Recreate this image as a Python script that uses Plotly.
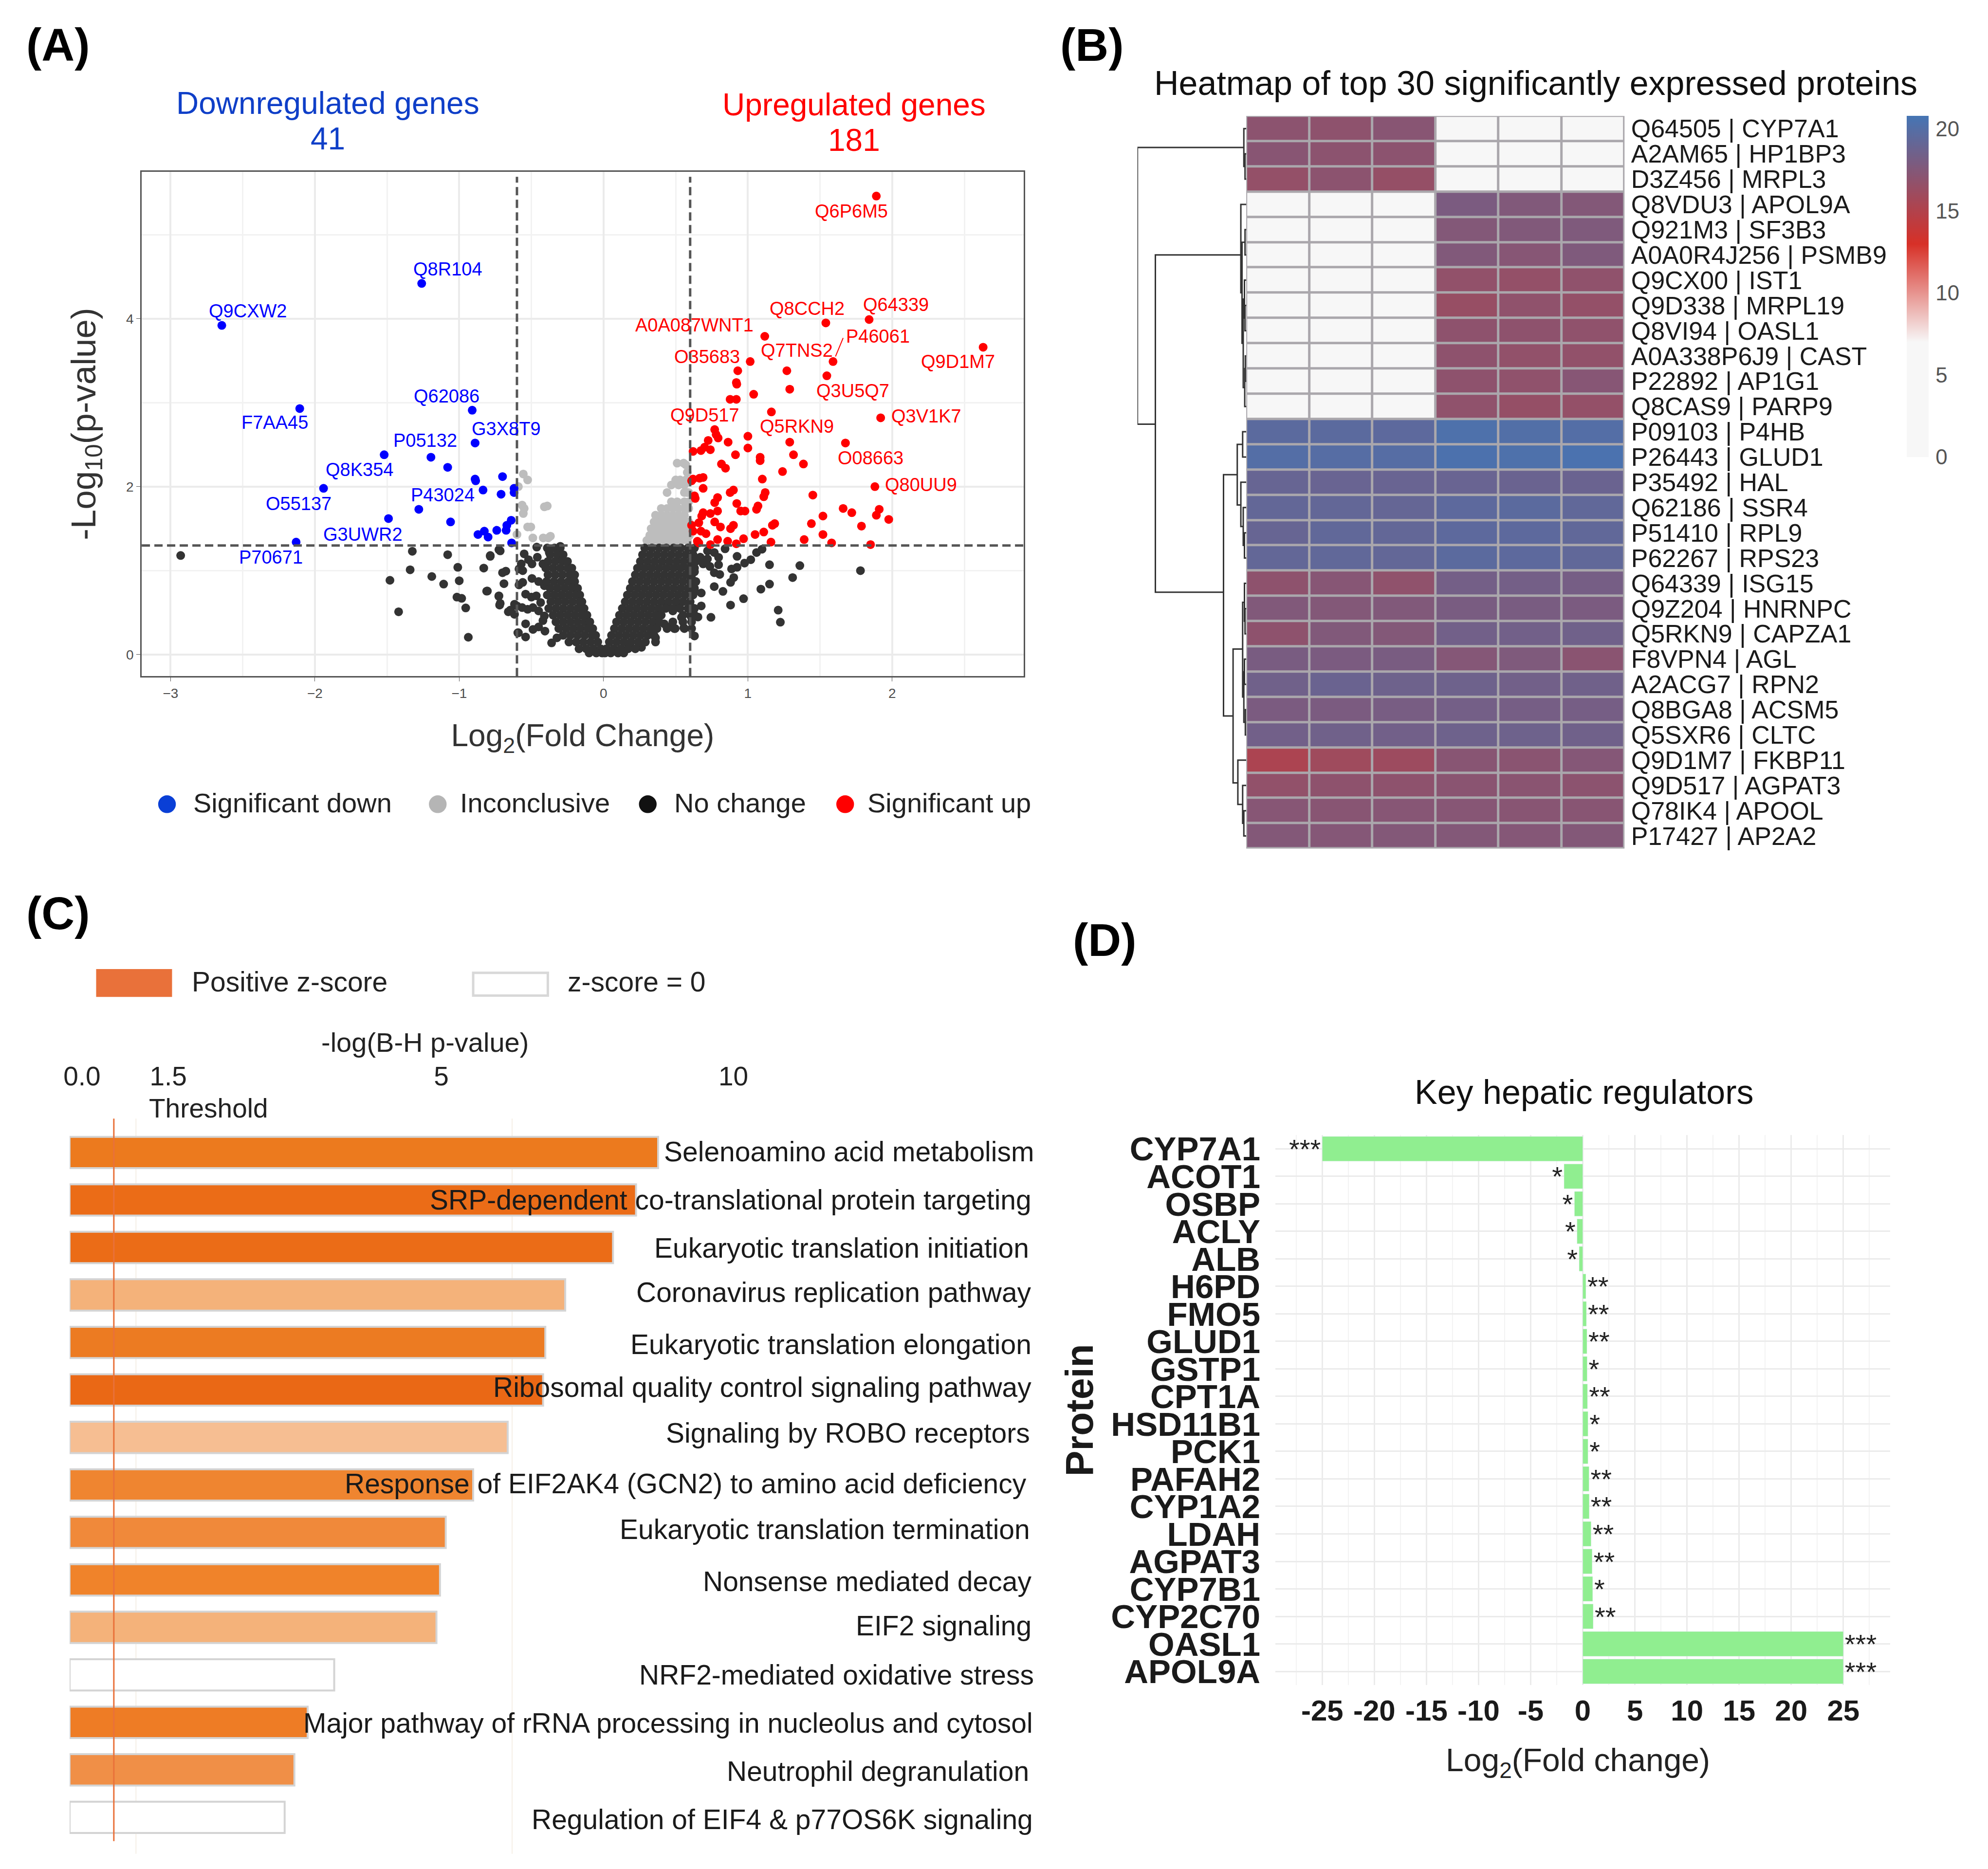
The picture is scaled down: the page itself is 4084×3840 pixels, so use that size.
import plotly.graph_objects as go

# overview coordinates (picture scaled to 1560 wide) -> paper fractions
S = 4084 / 1560
W = 4076
H = 3832
FONT = "Liberation Sans"


def fx(v):
    return ((v * 0.996 - 4) * S - 8) / W


def fy(v):
    return 1 - ((v - 3) * S - 8) / H


# ---- panel A: volcano ----
down_x = [-2.645, -1.26, -2.105, -0.91, -0.89, -1.52, -1.196, -1.08, -1.94, -0.89, -0.886, -0.70, -0.835, -0.71,
          -0.62, -0.62, -1.28, -1.49, -1.06, -0.64, -0.67, -0.675, -0.74, -0.826, -0.87, -0.80, -2.13, -0.637]
down_y = [3.92, 4.42, 2.93, 2.91, 2.52, 2.38, 2.35, 2.23, 1.98, 2.09, 2.07, 2.12, 1.96, 1.91,
          1.98, 1.93, 1.73, 1.62, 1.58, 1.60, 1.54, 1.48, 1.48, 1.47, 1.43, 1.40, 1.34, 1.33]

up_x = [1.89, 1.54, 1.84, 1.117, 1.59, 1.016, 0.93, 1.27, 1.547, 0.92, 0.923, 1.29, 1.04, 0.877, 0.92, 2.63,
        1.163, 1.92, 0.77, 0.78, 0.794, 1.0, 0.725, 0.863, 1.29, 1.676, 1.0, 0.70, 0.74, 0.62, 0.675, 0.914,
        1.316, 1.085, 1.085, 1.385, 0.817, 0.845, 1.24, 0.69, 0.665, 0.62, 1.10, 1.88, 0.61, 0.90, 0.877,
        1.12, 1.11, 0.69, 0.63, 0.635, 1.45, 0.79, 0.77, 0.923, 1.06, 1.07, 0.95, 0.98, 1.66, 1.72, 1.91,
        1.89, 1.976, 1.52, 0.79, 0.74, 0.69, 0.68, 1.186, 1.17, 1.44, 1.787, 0.61, 0.66, 0.77, 0.81, 0.90,
        0.88, 0.675, 0.62, 0.71, 1.11, 1.05, 1.52, 1.39, 0.97, 0.79, 0.86, 0.92, 0.65, 0.66, 1.16, 1.58,
        1.85, 0.74]
up_y = [5.46, 3.95, 3.99, 3.79, 3.49, 3.49, 3.38, 3.38, 3.32, 3.24, 3.22, 3.16, 3.10, 3.04, 3.04, 3.66,
        2.89, 2.82, 2.68, 2.62, 2.58, 2.60, 2.55, 2.53, 2.53, 2.52, 2.46, 2.47, 2.44, 2.42, 2.43, 2.38,
        2.38, 2.35, 2.31, 2.27, 2.27, 2.22, 2.18, 2.11, 2.10, 2.09, 2.09, 2.00, 2.07, 1.96, 1.93,
        1.93, 1.88, 1.98, 1.89, 1.86, 1.90, 1.87, 1.81, 1.80, 1.73, 1.77, 1.71, 1.71, 1.74, 1.69, 1.73,
        1.66, 1.61, 1.65, 1.71, 1.68, 1.69, 1.65, 1.56, 1.54, 1.56, 1.53, 1.54, 1.57, 1.58, 1.52, 1.54,
        1.50, 1.47, 1.47, 1.44, 1.46, 1.43, 1.43, 1.37, 1.38, 1.37, 1.35, 1.32, 1.35, 1.33, 1.34, 1.33,
        1.31, 1.31]

grey_x = [-0.556, -0.526, -0.59, -0.564, -0.55, -0.556, -0.41, -0.39, -0.526, -0.504, -0.60, -0.49, -0.418, -0.368,
          -0.383, 0.30, 0.34, 0.38, 0.42, 0.46, 0.50, 0.54, 0.58, 0.32, 0.36, 0.40, 0.44, 0.48, 0.52, 0.56, 0.595,
          0.33, 0.37, 0.41, 0.45, 0.49, 0.53, 0.57, 0.35, 0.39, 0.43, 0.47, 0.51, 0.55, 0.59, 0.36, 0.40, 0.44,
          0.48, 0.52, 0.56, 0.40, 0.44, 0.48, 0.52, 0.56, 0.59, 0.47, 0.51, 0.56, 0.59, 0.44, 0.56, 0.58, 0.59,
          0.47, 0.52, 0.56, 0.50, 0.53, 0.57, 0.58, 0.51, 0.555, 0.57]
grey_y = [2.15, 2.08, 2.00, 1.78, 1.74, 1.68, 1.76, 1.77, 1.52, 1.52, 1.43, 1.39, 1.39, 1.41,
          1.39, 1.36, 1.36, 1.36, 1.36, 1.36, 1.36, 1.36, 1.36, 1.42, 1.42, 1.42, 1.42, 1.42, 1.42, 1.42, 1.42,
          1.50, 1.50, 1.50, 1.50, 1.50, 1.50, 1.50, 1.58, 1.58, 1.58, 1.58, 1.58, 1.58, 1.58, 1.66, 1.66, 1.66,
          1.66, 1.66, 1.66, 1.74, 1.74, 1.74, 1.74, 1.74, 1.74, 1.82, 1.82, 1.82, 1.82, 1.93, 1.93, 1.93, 1.93,
          2.02, 2.02, 2.02, 2.08, 2.08, 2.08, 2.17, 2.28, 2.28, 2.26]

# sparse black points away from the V
scatter_x = [-2.93, -1.325, -1.34, -1.48, -1.42, -1.19, -1.08, -1.108, -1.01, -1.016, -0.983, -0.955, -0.937, -1.0,
             -0.83, -0.785, -0.725, -0.81, -0.725, -0.716, -0.646, -0.59, -0.716, -0.785, -0.677, -0.70, -0.69,
             -0.805, -0.726, -0.72, -0.66, -0.617, -0.617, -0.586, -0.57, -0.56, -0.55, -0.52, -0.496, -0.459,
             -0.42, -0.586, -0.56, -0.496, -0.45, -0.41, -0.54, -0.50, -0.466, -0.436, -0.60, -0.564, -0.526,
             -0.489, -0.45, -0.41, -0.42, -0.54, -0.594, -0.54, -0.489, -0.45, -0.406, -0.36, -0.323, -0.463,
             -0.30, -0.293, -0.376,
             0.72, 0.767, 0.797, 0.842, 0.67, 0.69, 0.737, 0.767, 0.805, 0.797, 0.72, 0.925, 0.887, 0.925, 0.977,
             1.02, 1.06, 1.098, 0.902, 0.88, 1.15, 1.36, 1.31, 1.15, 1.09, 0.97, 0.88, 0.827, 0.767, 0.677, 0.63,
             0.677, 0.744, 0.654, 1.21, 1.225, 0.63, 0.556, 0.496, 0.42, 0.47, 0.36, 0.263, 0.173, 0.61, 0.54,
             0.48, 0.436, 0.51, 0.60, 0.617, 0.63, 0.60, 1.78]
scatter_y = [1.18, 1.23, 1.01, 0.885, 0.51, 0.93, 1.19, 0.84, 1.04, 0.685, 0.67, 0.556, 0.207, 0.88,
             1.03, 1.18, 1.25, 0.756, 0.70, 0.61, 0.53, 0.26, 1.235, 1.17, 0.994, 0.975, 0.845,
             0.757, 0.695, 0.59, 0.51, 0.48, 0.60, 1.02, 1.08, 1.0, 1.2, 1.13, 1.08, 1.16,
             1.08, 0.83, 0.86, 0.907, 0.87, 0.82, 0.72, 0.685, 0.70, 0.62, 0.58, 0.56, 0.54,
             0.56, 0.52, 0.46, 0.405, 0.367, 0.26, 0.21, 0.30, 0.33, 0.28, 0.14, 0.20, 1.28,
             1.29, 1.14, 1.216,
             1.235, 1.216, 1.158, 1.26, 1.16, 1.08, 1.05, 0.975, 0.955, 1.07, 1.14, 1.17, 1.02, 1.04, 1.09,
             1.13, 1.216, 1.255, 0.917, 0.86, 1.07, 1.06, 0.917, 0.84, 0.78, 0.666, 0.59, 0.753, 0.81, 0.734, 0.754,
             0.58, 0.444, 0.448, 0.53, 0.386, 0.222, 0.319, 0.31, 0.367, 0.34, 0.20, 0.087, 0.077, 0.444, 0.444,
             0.52, 0.56, 0.618, 0.58, 0.888, 0.985, 1.04, 1.0]

v_rows = {
    1.27: [-0.39, -0.34, -0.30, 0.285, 0.335, 0.385, 0.435, 0.485, 0.535, 0.585, 0.63],
    1.19: [-0.37, -0.32, -0.28, 0.27, 0.32, 0.37, 0.42, 0.47, 0.52, 0.57, 0.62],
    1.11: [-0.385, -0.335, -0.285, -0.25, 0.255, 0.305, 0.355, 0.405, 0.455, 0.505, 0.555, 0.605, 0.64],
    1.03: [-0.40, -0.35, -0.30, -0.25, -0.22, 0.235, 0.285, 0.335, 0.385, 0.435, 0.485, 0.535, 0.585, 0.63],
    0.95: [-0.385, -0.335, -0.285, -0.235, -0.20, 0.22, 0.27, 0.32, 0.37, 0.42, 0.47, 0.52, 0.57, 0.61],
    0.87: [-0.395, -0.345, -0.295, -0.245, -0.20, 0.20, 0.25, 0.30, 0.35, 0.40, 0.45, 0.50, 0.55, 0.60, 0.64],
    0.79: [-0.37, -0.32, -0.27, -0.22, -0.18, 0.185, 0.235, 0.285, 0.335, 0.385, 0.435, 0.485, 0.535, 0.585, 0.63],
    0.71: [-0.39, -0.34, -0.29, -0.24, -0.19, -0.165, 0.165, 0.215, 0.265, 0.315, 0.365, 0.415, 0.465, 0.515, 0.565,
           0.62],
    0.63: [-0.365, -0.315, -0.265, -0.215, -0.165, -0.15, 0.15, 0.20, 0.25, 0.30, 0.35, 0.40, 0.45, 0.50, 0.55, 0.60],
    0.55: [-0.38, -0.33, -0.28, -0.23, -0.18, -0.135, 0.13, 0.18, 0.23, 0.28, 0.33, 0.38, 0.43, 0.48, 0.53, 0.585,
           0.63],
    0.47: [-0.35, -0.30, -0.25, -0.20, -0.15, -0.115, 0.11, 0.16, 0.21, 0.26, 0.31, 0.36, 0.40, 0.55, 0.60, 0.63],
    0.39: [-0.33, -0.28, -0.23, -0.18, -0.13, -0.095, 0.09, 0.14, 0.19, 0.24, 0.29, 0.34, 0.385, 0.48, 0.55, 0.61],
    0.31: [-0.31, -0.26, -0.21, -0.16, -0.11, -0.075, 0.075, 0.125, 0.175, 0.225, 0.275, 0.325, 0.37, 0.44, 0.49, 0.56,
           0.61],
    0.23: [-0.28, -0.23, -0.18, -0.13, -0.08, -0.055, 0.055, 0.105, 0.155, 0.205, 0.255, 0.305, 0.35],
    0.15: [-0.24, -0.19, -0.14, -0.09, -0.04, 0.04, 0.09, 0.14, 0.19, 0.24, 0.29, 0.36],
    0.07: [-0.17, -0.12, -0.07, -0.02, 0.02, 0.07, 0.12, 0.17, 0.22],
    0.02: [-0.10, -0.05, -0.01, 0.01, 0.05, 0.10, 0.14],
}

black_x = list(scatter_x)
black_y = list(scatter_y)
for row_y, row_x in v_rows.items():
    black_x += row_x
    black_y += [row_y] * len(row_x)

down_labels = ["Q8R104", "Q9CXW2", "Q62086", "F7AA45", "G3X8T9", "P05132", "Q8K354", "O55137", "P43024", "G3UWR2",
               "P70671"]
down_label_pos = [(353, 212), (195, 245), (352, 312), (216, 333), (399, 338), (335, 347), (283, 370), (235, 397),
                  (349, 390), (286, 421), (213, 439)]
up_labels = ["Q6P6M5", "Q8CCH2", "Q64339", "A0A087WNT1", "P46061", "Q7TNS2", "O35683", "Q9D1M7", "Q3U5Q7", "Q9D517",
             "Q5RKN9", "Q3V1K7", "O08663", "Q80UU9"]
up_label_pos = [(672, 166), (637, 243), (707, 240), (548, 256), (693, 265), (629, 276), (558, 281), (756, 285),
                (673, 308), (556, 327), (629, 336), (731, 328), (687, 361), (727, 382)]

# ---- panel B: heatmap ----
proteins = ["Q64505 | CYP7A1", "A2AM65 | HP1BP3", "D3Z456 | MRPL3", "Q8VDU3 | APOL9A", "Q921M3 | SF3B3",
            "A0A0R4J256 | PSMB9", "Q9CX00 | IST1", "Q9D338 | MRPL19", "Q8VI94 | OASL1", "A0A338P6J9 | CAST",
            "P22892 | AP1G1", "Q8CAS9 | PARP9", "P09103 | P4HB", "P26443 | GLUD1", "P35492 | HAL", "Q62186 | SSR4",
            "P51410 | RPL9", "P62267 | RPS23", "Q64339 | ISG15", "Q9Z204 | HNRNPC", "Q5RKN9 | CAPZA1", "F8VPN4 | AGL",
            "A2ACG7 | RPN2", "Q8BGA8 | ACSM5", "Q5SXR6 | CLTC", "Q9D1M7 | FKBP11", "Q9D517 | AGPAT3",
            "Q78IK4 | APOOL", "P17427 | AP2A2"]
samples = ["S1", "S2", "S3", "S4", "S5", "S6"]
expression = [
    [17.0, 16.9, 17.2, 0, 0, 0],
    [17.2, 17.0, 17.0, 0, 0, 0],
    [16.6, 17.0, 16.5, 0, 0, 0],
    [0, 0, 0, 17.9, 17.6, 17.5],
    [0, 0, 0, 17.5, 17.6, 17.7],
    [0, 0, 0, 17.6, 17.3, 17.7],
    [0, 0, 0, 16.7, 16.6, 16.8],
    [0, 0, 0, 16.4, 16.8, 16.6],
    [0, 0, 0, 16.9, 16.9, 16.8],
    [0, 0, 0, 16.9, 16.7, 16.7],
    [0, 0, 0, 16.9, 16.8, 17.3],
    [0, 0, 0, 16.8, 16.5, 16.6],
    [19.6, 19.6, 19.5, 20.3, 20.1, 20.0],
    [20.0, 19.9, 19.9, 20.4, 20.3, 20.5],
    [19.0, 18.9, 18.9, 18.9, 18.8, 18.8],
    [19.2, 19.2, 19.1, 19.5, 19.6, 19.3],
    [19.0, 19.3, 19.2, 19.5, 19.5, 19.3],
    [19.2, 19.3, 19.2, 19.6, 19.5, 19.3],
    [16.9, 17.3, 16.8, 18.3, 18.3, 18.2],
    [17.6, 17.5, 17.6, 18.0, 18.0, 17.9],
    [16.9, 17.6, 17.5, 18.4, 18.4, 18.5],
    [18.0, 17.9, 18.0, 17.4, 17.7, 17.1],
    [18.5, 18.8, 18.6, 18.6, 18.4, 18.5],
    [17.9, 17.9, 18.1, 18.3, 18.2, 18.2],
    [18.4, 18.5, 18.4, 18.6, 18.6, 18.5],
    [15.3, 16.0, 16.1, 17.2, 17.1, 17.4],
    [16.7, 16.9, 16.9, 17.1, 17.1, 17.0],
    [17.3, 17.2, 17.3, 17.3, 17.2, 17.2],
    [17.5, 17.4, 17.5, 17.5, 17.4, 17.5],
]

# dendrogram merges: height, row of child a, row of child b, height of a, height of b
merges = [
    (2, 1, 2, 0, 0), (4, 0, 1.5, 0, 2),
    (1.5, 9, 10, 0, 0), (2.5, 9.5, 11, 1.5, 0), (2, 7, 8, 0, 0), (3, 6, 7.5, 0, 2), (5, 6.75, 10.25, 3, 2.5),
    (2, 4, 5, 0, 0), (7, 4.5, 8.5, 2, 5), (9, 3, 6.5, 0, 7),
    (6, 12, 13, 0, 0), (3, 16, 17, 0, 0), (5, 15, 16.5, 0, 3), (9, 14, 15.75, 0, 5), (15, 12.5, 14.9, 6, 9),
    (2, 19, 20, 0, 0), (3, 18, 19.5, 0, 2), (3, 21, 22, 0, 0), (1.5, 23, 24, 0, 0), (4, 21.5, 23.5, 3, 1.5),
    (6, 18.75, 22.5, 3, 4), (4, 27, 28, 0, 0), (6, 26, 27.5, 0, 4), (14, 25, 26.75, 0, 6),
    (22, 20.6, 25.9, 6, 14), (38, 13.7, 23.25, 15, 22), (152, 5.0, 18.35, 9, 38), (182, 0.75, 11.7, 4, 152),
]
dendro_x = []
dendro_y = []
for h, ra, rb, ha, hb in merges:
    dendro_x += [ha, h, h, hb, None]
    dendro_y += [ra, ra, rb, rb, None]

# ---- panel C: pathways ----
pathways = ["Selenoamino acid metabolism", "SRP-dependent co-translational protein targeting",
            "Eukaryotic translation initiation", "Coronavirus replication pathway",
            "Eukaryotic translation elongation", "Ribosomal quality control signaling pathway",
            "Signaling by ROBO receptors", "Response of EIF2AK4 (GCN2) to amino acid deficiency",
            "Eukaryotic translation termination", "Nonsense mediated decay", "EIF2 signaling",
            "NRF2-mediated oxidative stress", "Major pathway of rRNA processing in nucleolus and cytosol",
            "Neutrophil degranulation", "Regulation of EIF4 & p77OS6K signaling"]
pathway_log_p = [13.3, 12.8, 12.28, 11.2, 10.75, 10.7, 9.9, 9.12, 8.5, 8.37, 8.29, 5.98, 5.38, 5.08, 4.86]
pathway_colors = ["#EC7A1E", "#EB6C17", "#EB6C17", "#F4B27A", "#EC7B22", "#EA6815", "#F6BE92", "#EF8530", "#F0893A",
                  "#F0832A", "#F4B27A", "#FFFFFF", "#EE7C25", "#F08F47", "#FFFFFF"]
pathway_label_right = [816, 814, 812, 814, 814, 814, 813, 810, 813, 814, 814, 816, 815, 812, 815]
pathway_label_y = [908, 946, 984, 1019, 1060, 1094, 1130, 1170, 1206, 1247, 1282, 1321, 1359, 1397, 1435]

# ---- panel D: regulators ----
regulators = ["CYP7A1", "ACOT1", "OSBP", "ACLY", "ALB", "H6PD", "FMO5", "GLUD1", "GSTP1", "CPT1A", "HSD11B1", "PCK1",
              "PAFAH2", "CYP1A2", "LDAH", "AGPAT3", "CYP7B1", "CYP2C70", "OASL1", "APOL9A"]
fold_change = [-25, -1.8, -0.8, -0.55, -0.35, 0.3, 0.35, 0.4, 0.42, 0.45, 0.5, 0.5, 0.6, 0.62, 0.8, 0.9, 0.95, 1.0,
               25, 25]
stars = ["***", "*", "*", "*", "*", "**", "**", "**", "*", "**", "*", "*", "**", "**", "**", "**", "*", "**", "***",
         "***"]
fold_ticks = [-25, -20, -15, -10, -5, 0, 5, 10, 15, 20, 25]
fold_tick_labels = ["-25", "-20", "-15", "-10", "-5", "0", "5", "10", "15", "20", "25"]

fig = go.Figure()

# volcano
fig.add_trace(go.Scatter(x=grey_x, y=grey_y, mode="markers", name="Inconclusive", xaxis="x", yaxis="y",
                         marker=dict(size=18, color="#bdbdbd")))
fig.add_trace(go.Scatter(x=black_x, y=black_y, mode="markers", name="No change", xaxis="x", yaxis="y",
                         marker=dict(size=18, color="#333333")))
fig.add_trace(go.Scatter(x=down_x, y=down_y, mode="markers", name="Significant down", xaxis="x", yaxis="y",
                         marker=dict(size=18, color="#0000ff")))
fig.add_trace(go.Scatter(x=up_x, y=up_y, mode="markers", name="Significant up", xaxis="x", yaxis="y",
                         marker=dict(size=18, color="#ff0000")))

# heatmap + dendrogram
heat_scale = [[0, "#f7f7f7"], [7.0 / 20.8, "#f7f7f7"], [13.0 / 20.8, "#d73027"], [1, "#4575b4"]]
fig.add_trace(go.Heatmap(z=expression, x=samples, y=proteins, xaxis="x2", yaxis="y2", zmin=0, zmax=20.8,
                         colorscale=heat_scale, xgap=5, ygap=5,
                         colorbar=dict(x=fx(1506), xanchor="left", xpad=0, y=fy(360), yanchor="bottom", ypad=0,
                                       len=(360 - 91) * S / H, thickness=45, outlinewidth=0, ticks="outside",
                                       ticklen=6, tickcolor="rgba(0,0,0,0)",
                                       tickvals=[0, 5, 10, 15, 20], ticklabelposition="outside",
                                       tickfont=dict(size=44, color="#555555", family=FONT))))
fig.add_trace(go.Scatter(x=dendro_x, y=dendro_y, mode="lines", xaxis="x3", yaxis="y3",
                         line=dict(color="#333333", width=3)))

# pathway bars
fig.add_trace(go.Bar(x=pathway_log_p, y=pathways, orientation="h", xaxis="x4", yaxis="y4", width=0.66,
                     marker=dict(color=pathway_colors, line=dict(color="#d4d4d4", width=4))))

# regulator bars
fig.add_trace(go.Bar(x=fold_change, y=regulators, orientation="h", xaxis="x5", yaxis="y5", width=0.9,
                     marker=dict(color="#90EE90"), text=stars, textposition="outside", constraintext="none",
                     cliponaxis=False, textfont=dict(size=56, color="#222222", family=FONT)))

annotations = []


def add_text(text, ov_x, ov_y, size, color="#111111", anchor="center", bold=False, angle=0):
    if bold:
        text = "<b>" + text + "</b>"
    annotations.append(dict(text=text, x=fx(ov_x), y=fy(ov_y), xref="paper", yref="paper", showarrow=False,
                            xanchor=anchor, yanchor="middle", textangle=angle,
                            font=dict(size=size, color=color, family=FONT)))


for letter, ox, oy in [("(A)", 45, 35), ("(B)", 862, 35), ("(C)", 45, 720), ("(D)", 872, 741)]:
    add_text(letter, ox, oy, 94, "#000000", bold=True)

add_text("Downregulated genes", 258, 81, 64, "#0f3fc8")
add_text("41", 258, 109, 64, "#0f3fc8")
add_text("Upregulated genes", 674, 82, 64, "#ff0000")
add_text("181", 674, 110, 64, "#ff0000")
for name, (ox, oy) in zip(down_labels, down_label_pos):
    add_text(name, ox, oy, 38, "#0000ff")
for name, (ox, oy) in zip(up_labels, up_label_pos):
    add_text(name, ox, oy, 38, "#ff0000")

add_text("Heatmap of top 30 significantly expressed proteins", 1213, 65, 70, "#111111")

add_text("Positive z-score", 150, 774, 57, "#222222", anchor="left")
add_text("z-score = 0", 447, 774, 57, "#222222", anchor="left")
add_text("-log(B-H p-value)", 335, 822, 56, "#222222")
add_text("Threshold", 116, 874, 55, "#222222", anchor="left")
for name, right, oy in zip(pathways, pathway_label_right, pathway_label_y):
    add_text(name, right + 1, oy, 57, "#1a1a1a", anchor="right")

add_text("Key hepatic regulators", 1251, 861, 70, "#111111")
add_text("Log<sub>2</sub>(Fold change)", 1246, 1390, 66, "#222222")

# panel A legend, drawn by hand because its dots are bigger than the points
legend_items = [("Significant down", 131, 151, "#0a3fd6"), ("Inconclusive", 345, 362, "#b5b5b5"),
                ("No change", 511, 531, "#111111"), ("Significant up", 667, 684, "#ff0000")]
shapes = []
for name, dot, txt, color in legend_items:
    add_text(name, txt, 633, 56, "#222222", anchor="left")
    shapes.append(dict(type="circle", xref="paper", yref="paper", x0=fx(dot - 7), x1=fx(dot + 7), y0=fy(641),
                       y1=fy(627), fillcolor=color, line=dict(width=0)))

# dashed cut-offs on the volcano
for v in [-0.6, 0.6]:
    shapes.append(dict(type="line", xref="x", yref="paper", x0=v, x1=v, y0=fy(533), y1=fy(139),
                       line=dict(color="#555555", width=5, dash="17px,9px")))
shapes.append(dict(type="line", xref="x", yref="y", x0=-3.2, x1=2.91, y0=1.3, y1=1.3,
                   line=dict(color="#555555", width=5, dash="17px,9px")))
shapes.append(dict(type="line", xref="x", yref="y", x0=1.66, x1=1.607, y0=3.77, y1=3.55,
                   line=dict(color="#ff0000", width=2)))

# grey backing that shows through the heatmap gaps
shapes.append(dict(type="rect", xref="paper", yref="paper", x0=fx(984), x1=fx(1283), y0=fy(669), y1=fy(91),
                   fillcolor="#aaa7ac", line=dict(width=0), layer="below"))

# panel C legend and threshold lines
shapes.append(dict(type="rect", xref="paper", yref="paper", x0=fx(75), x1=fx(135), y0=fy(786), y1=fy(764),
                   fillcolor="#E9713A", line=dict(width=0)))
shapes.append(dict(type="rect", xref="paper", yref="paper", x0=fx(373), x1=fx(432), y0=fy(785), y1=fy(767),
                   fillcolor="#ffffff", line=dict(color="#d8d8d8", width=5)))
shapes.append(dict(type="line", xref="x4", yref="paper", x0=1.0, x1=1.0, y0=fy(1452), y1=fy(882),
                   line=dict(color="#E9713A", width=3)))
for v in [1.5, 10]:
    shapes.append(dict(type="line", xref="x4", yref="paper", x0=v, x1=v, y0=fy(1462), y1=fy(882),
                       line=dict(color="#f5efe6", width=2), layer="below"))

volcano_grid = dict(showgrid=True, gridcolor="#ebebeb", gridwidth=4, zeroline=False, showline=True, mirror=True,
                    linecolor="#555555", linewidth=3, ticks="outside", ticklen=8, tickcolor="#555555",
                    tickfont=dict(size=28, color="#4d4d4d", family=FONT))

fig.update_layout(
    width=W, height=H, margin=dict(l=0, r=0, t=0, b=0), autosize=False, showlegend=False,
    paper_bgcolor="white", plot_bgcolor="white", font=dict(family=FONT),
    annotations=annotations, shapes=shapes,
    xaxis=dict(domain=[fx(111), fx(808)], range=[-3.2, 2.91], anchor="y", tick0=0, dtick=1,
               minor=dict(dtick=0.5, showgrid=True, gridcolor="#f2f2f2", gridwidth=3),
               title=dict(text="Log<sub>2</sub>(Fold Change)", standoff=50, font=dict(size=64, color="#333333")),
               **volcano_grid),
    yaxis=dict(domain=[fy(533), fy(135)], range=[-0.257, 5.75], anchor="x", tick0=0, dtick=2,
               minor=dict(dtick=1, showgrid=True, gridcolor="#f2f2f2", gridwidth=3),
               title=dict(text="-Log<sub>10</sub>(p-value)", standoff=40, font=dict(size=71, color="#333333")),
               **volcano_grid),
    xaxis2=dict(domain=[fx(984), fx(1283)], anchor="y2", type="category", showticklabels=False, ticks="",
                showgrid=False, zeroline=False),
    yaxis2=dict(domain=[fy(669), fy(91)], anchor="x2", side="right", type="category", range=[28.5, -0.5], dtick=1,
                showgrid=False, zeroline=False, ticks="outside", ticklen=2, tickcolor="rgba(0,0,0,0)",
                tickfont=dict(size=52, color="#1a1a1a", family=FONT)),
    xaxis3=dict(domain=[fx(898), fx(984)], anchor="y3", range=[182, 0], visible=False),
    yaxis3=dict(domain=[fy(669), fy(91)], anchor="x3", range=[28.5, -0.5], visible=False),
    xaxis4=dict(domain=[fx(54), fx(820)], range=[0, 21.9], anchor="free", position=fy(860), side="top",
                tickvals=[0.28, 2.23, 8.4, 15], ticktext=["0.0", "1.5", "5", "10"], ticks="", showgrid=False,
                zeroline=False, showline=False, tickfont=dict(size=55, color="#222222", family=FONT)),
    yaxis4=dict(domain=[fy(1452), fy(890)], anchor="x4", type="category", autorange="reversed", visible=False),
    xaxis5=dict(domain=[fx(1007), fx(1493)], range=[-29.5, 29.5], anchor="y5", tickvals=fold_ticks,
                ticktext=fold_tick_labels, showgrid=True,
                gridcolor="#ebebeb", gridwidth=3, zeroline=False, ticks="", ticklabelstandoff=12,
                minor=dict(dtick=2.5, showgrid=True, gridcolor="#f3f3f3", gridwidth=2),
                tickfont=dict(size=60, color="#1a1a1a", family=FONT, weight="bold")),
    yaxis5=dict(domain=[fy(1329), fy(895)], anchor="x5", type="category", autorange="reversed", dtick=1,
                showgrid=True, gridcolor="#ebebeb", gridwidth=3, zeroline=False, ticks="outside", ticklen=16,
                tickcolor="rgba(0,0,0,0)", tickfont=dict(size=69, color="#1a1a1a", family=FONT, weight="bold"),
                title=dict(text="<b>Protein</b>", standoff=10, font=dict(size=79, color="#1a1a1a"))),
)

fig.write_html("out.html")
